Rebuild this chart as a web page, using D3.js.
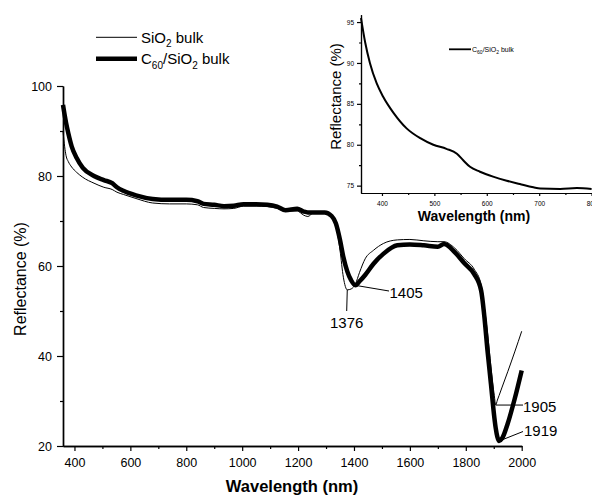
<!DOCTYPE html>
<html>
<head>
<meta charset="utf-8">
<script src="https://cdn.jsdelivr.net/npm/d3@7"></script>
<style>
  body { margin: 0; background: #fff; }
  svg { display: block; font-family: "Liberation Sans", Arial, sans-serif; }
</style>
</head>
<body>
<div id="chart"></div>
<script>
// wavelength grid (nm)
var wavelength = [359, 365, 370, 378, 390, 408, 430, 470, 505, 535, 552, 575, 620, 680, 740, 800,
    840, 862, 900, 935, 970, 1005, 1050, 1090, 1125, 1155, 1197, 1220, 1235, 1255, 1295, 1320,
    1335, 1350, 1362, 1376, 1390, 1405, 1420, 1440, 1470, 1505, 1555, 1600, 1650, 1700, 1722,
    1760, 1795, 1830, 1855, 1866, 1878, 1890, 1902, 1907, 1913, 1919, 1930, 1950, 1975, 2000];

var sio2 = [90.0, 86.5, 84.5, 83.2, 82.0, 80.8, 79.7, 78.4, 77.5, 77.0, 76.4, 75.9, 75.0, 74.0, 73.8, 73.8,
    73.6, 73.0, 72.8, 72.7, 72.8, 73.3, 73.3, 73.2, 72.8, 72.2, 72.2, 71.3, 71.0, 71.8, 71.7, 71.2,
    69.4, 63.5, 57.5, 54.7, 54.9, 56.0, 58.6, 61.6, 63.5, 65.0, 65.8, 65.9, 65.6, 65.4, 65.4,
    64.0, 61.6, 59.3, 55.8, 51.0, 45.0, 37.6, 31.2, 29.1, 30.2, 31.2, 33.1, 36.5, 40.9, 45.5];

var c60 = [95.8, 93.5, 91.8, 89.5, 86.6, 84.0, 81.8, 80.0, 79.1, 78.4, 77.5, 76.7, 75.7, 74.9, 74.7, 74.7,
    74.4, 73.8, 73.6, 73.3, 73.4, 73.7, 73.7, 73.6, 73.2, 72.4, 72.7, 72.1, 71.9, 71.9, 71.9, 71.1,
    69.5, 65.8, 62.0, 58.8, 56.8, 55.7, 56.6, 58.0, 60.5, 62.7, 64.6, 64.8, 64.6, 64.3, 64.9,
    63.1, 60.6, 58.2, 54.5, 49.0, 41.0, 33.8, 26.4, 24.0, 22.0, 21.1, 21.7, 25.0, 30.5, 36.8];

// inset: C60/SiO2 bulk, 360-800 nm
var insetWavelength = [360, 368, 377, 390, 402, 422, 447, 473, 498, 523, 543, 555, 568, 587, 612,
    638, 663, 689, 702, 740, 772, 800];
var insetC60 = [95.5, 92.5, 90.0, 87.5, 85.9, 83.9, 82.0, 80.8, 80.0, 79.5, 78.9, 78.1, 77.3, 76.7,
    76.1, 75.6, 75.2, 74.8, 74.65, 74.6, 74.7, 74.6];

var xMajor = [400, 600, 800, 1000, 1200, 1400, 1600, 1800, 2000];
var xMinor = [500, 700, 900, 1100, 1300, 1500, 1700, 1900];
var yMajor = [20, 40, 60, 80, 100];
var yMinor = [30, 50, 70, 90];

var insetXMajor = [400, 500, 600, 700, 800];
var insetXMinor = [450, 550, 650, 750];
var insetYMajor = [75, 80, 85, 90, 95];
var insetYMinor = [77.5, 82.5, 87.5, 92.5];

// peak labels: which series, wavelength, label
var peaks = [
    {series: "sio2", wl: 1376, label: "1376"},
    {series: "c60", wl: 1405, label: "1405"},
    {series: "sio2", wl: 1907, label: "1905"},
    {series: "c60", wl: 1919, label: "1919"}
];

var W = 592, H = 495;
var fmt = d3.format("d");
var svg = d3.select("#chart").append("svg")
    .attr("width", W)
    .attr("height", H);

svg.append("rect").attr("width", W).attr("height", H).attr("fill", "#fff");

//main scales
var x = d3.scaleLinear().domain([359, 2000]).range([63, 521.7]);
var y = d3.scaleLinear().domain([20, 100]).range([446, 86]);

function styleAxis(g, fs) {
    g.select(".domain").attr("stroke", "#000").attr("stroke-width", 1.4);
    g.selectAll(".tick line").attr("stroke", "#000").attr("stroke-width", 1.2);
    g.selectAll("text").attr("fill", "#000").style("font-size", fs + "px")
        .style("font-family", "'Liberation Sans', Arial, sans-serif");
}

// minor ticks first, then major ticks with labels
svg.append("g")
    .attr("transform", "translate(0,446)")
    .call(d3.axisBottom(x).tickValues(xMinor).tickSize(3).tickSizeOuter(0).tickFormat(""))
    .call(styleAxis, 12.5);
svg.append("g")
    .attr("transform", "translate(0,446)")
    .call(d3.axisBottom(x).tickValues(xMajor).tickSize(5).tickSizeOuter(0).tickPadding(7).tickFormat(fmt))
    .call(styleAxis, 12.5);

svg.append("g")
    .attr("transform", "translate(63,0)")
    .call(d3.axisLeft(y).tickValues(yMinor).tickSize(3).tickSizeOuter(0).tickFormat(""))
    .call(styleAxis, 12.5);
svg.append("g")
    .attr("transform", "translate(63,0)")
    .call(d3.axisLeft(y).tickValues(yMajor).tickSize(6).tickSizeOuter(0).tickPadding(5).tickFormat(fmt))
    .call(styleAxis, 12.5);

svg.append("text")
    .attr("x", 292)
    .attr("y", 492)
    .attr("text-anchor", "middle")
    .style("font-size", "16.5px")
    .style("font-weight", "bold")
    .text("Wavelength (nm)");

svg.append("text")
    .attr("transform", "translate(25.5,279) rotate(-90)")
    .attr("text-anchor", "middle")
    .style("font-size", "16px")
    .text("Reflectance (%)");

var line = d3.line()
    .x(function(d) { return x(d[0]); })
    .y(function(d) { return y(d[1]); })
    .curve(d3.curveMonotoneX);

var c60Pts = d3.zip(wavelength, c60);
var sio2Pts = d3.zip(wavelength, sio2);

svg.append("path")
    .attr("d", line(c60Pts))
    .attr("fill", "none")
    .attr("stroke", "#000")
    .attr("stroke-width", 4.5)
    .attr("stroke-linejoin", "round");

svg.append("path")
    .attr("d", line(sio2Pts))
    .attr("fill", "none")
    .attr("stroke", "#000")
    .attr("stroke-width", 1);

// peak annotations
var labelPos = {
    "1376": {lx: 346.7, ly: 311, tx: 346.7, ty: 328, anchor: "middle"},
    "1405": {lx: 389, ly: 291, tx: 389.5, ty: 298, anchor: "start"},
    "1905": {lx: 523, ly: null, tx: 523, ty: 411.5, anchor: "start"},
    "1919": {lx: 523, ly: 431.5, tx: 524, ty: 435.5, anchor: "start"}
};

peaks.forEach(function(p) {
    var vals = p.series === "sio2" ? sio2 : c60;
    var v = vals[wavelength.indexOf(p.wl)];
    var px = x(p.wl), py = y(v);
    var pos = labelPos[p.label];
    svg.append("line")
        .attr("x1", px).attr("y1", py)
        .attr("x2", pos.lx).attr("y2", pos.ly === null ? py : pos.ly)
        .attr("stroke", "#000")
        .attr("stroke-width", 1);
    svg.append("text")
        .attr("x", pos.tx)
        .attr("y", pos.ty)
        .attr("text-anchor", pos.anchor)
        .style("font-size", "15px")
        .text(p.label);
});

// legend
svg.append("line").attr("x1", 96).attr("x2", 137).attr("y1", 37.3).attr("y2", 37.3)
    .attr("stroke", "#000").attr("stroke-width", 1);
svg.append("line").attr("x1", 96).attr("x2", 137).attr("y1", 58.7).attr("y2", 58.7)
    .attr("stroke", "#000").attr("stroke-width", 4.5);

var leg1 = svg.append("text").attr("x", 141).attr("y", 43).style("font-size", "15px");
leg1.append("tspan").text("SiO");
leg1.append("tspan").attr("dy", 4).style("font-size", "10px").text("2");
leg1.append("tspan").attr("dy", -4).text(" bulk");

var leg2 = svg.append("text").attr("x", 141).attr("y", 64.3).style("font-size", "15px");
leg2.append("tspan").text("C");
leg2.append("tspan").attr("dy", 5).style("font-size", "10px").text("60");
leg2.append("tspan").attr("dy", -5).text("/SiO");
leg2.append("tspan").attr("dy", 5).style("font-size", "10px").text("2");
leg2.append("tspan").attr("dy", -5).text(" bulk");

// inset
var xi = d3.scaleLinear().domain([360, 800]).range([361, 591.6]);
var yi = d3.scaleLinear().domain([74.1, 95.9]).range([193, 14.7]);

var inset = svg.append("g");

inset.append("g")
    .attr("transform", "translate(0,193)")
    .call(d3.axisBottom(xi).tickValues(insetXMinor).tickSize(2).tickSizeOuter(0).tickFormat(""))
    .call(styleAxis, 6.5);
inset.append("g")
    .attr("transform", "translate(0,193)")
    .call(d3.axisBottom(xi).tickValues(insetXMajor).tickSize(3).tickSizeOuter(0).tickPadding(5).tickFormat(fmt))
    .call(styleAxis, 6.5);
inset.append("g")
    .attr("transform", "translate(361,0)")
    .call(d3.axisLeft(yi).tickValues(insetYMinor).tickSize(2).tickSizeOuter(0).tickFormat(""))
    .call(styleAxis, 6.5);
inset.append("g")
    .attr("transform", "translate(361,0)")
    .call(d3.axisLeft(yi).tickValues(insetYMajor).tickSize(4).tickSizeOuter(0).tickPadding(3).tickFormat(fmt))
    .call(styleAxis, 6.5);

inset.selectAll(".domain").attr("stroke-width", 1.2);

inset.append("text")
    .attr("x", 474)
    .attr("y", 221)
    .attr("text-anchor", "middle")
    .style("font-size", "14px")
    .style("font-weight", "bold")
    .text("Wavelength (nm)");

inset.append("text")
    .attr("transform", "translate(341,96.5) rotate(-90)")
    .attr("text-anchor", "middle")
    .style("font-size", "15px")
    .text("Reflectance (%)");

var insetLine = d3.line()
    .x(function(d) { return xi(d[0]); })
    .y(function(d) { return yi(d[1]); })
    .curve(d3.curveMonotoneX);

inset.append("path")
    .attr("d", insetLine(d3.zip(insetWavelength, insetC60)))
    .attr("fill", "none")
    .attr("stroke", "#000")
    .attr("stroke-width", 2);

inset.append("line").attr("x1", 449).attr("x2", 471).attr("y1", 49.3).attr("y2", 49.3)
    .attr("stroke", "#000").attr("stroke-width", 1.8);
var leg3 = inset.append("text").attr("x", 472).attr("y", 52).style("font-size", "7px");
leg3.append("tspan").text("C");
leg3.append("tspan").attr("dy", 2).style("font-size", "5px").text("60");
leg3.append("tspan").attr("dy", -2).text("/SiO");
leg3.append("tspan").attr("dy", 2).style("font-size", "5px").text("2");
leg3.append("tspan").attr("dy", -2).text(" bulk");
</script>
</body>
</html>
